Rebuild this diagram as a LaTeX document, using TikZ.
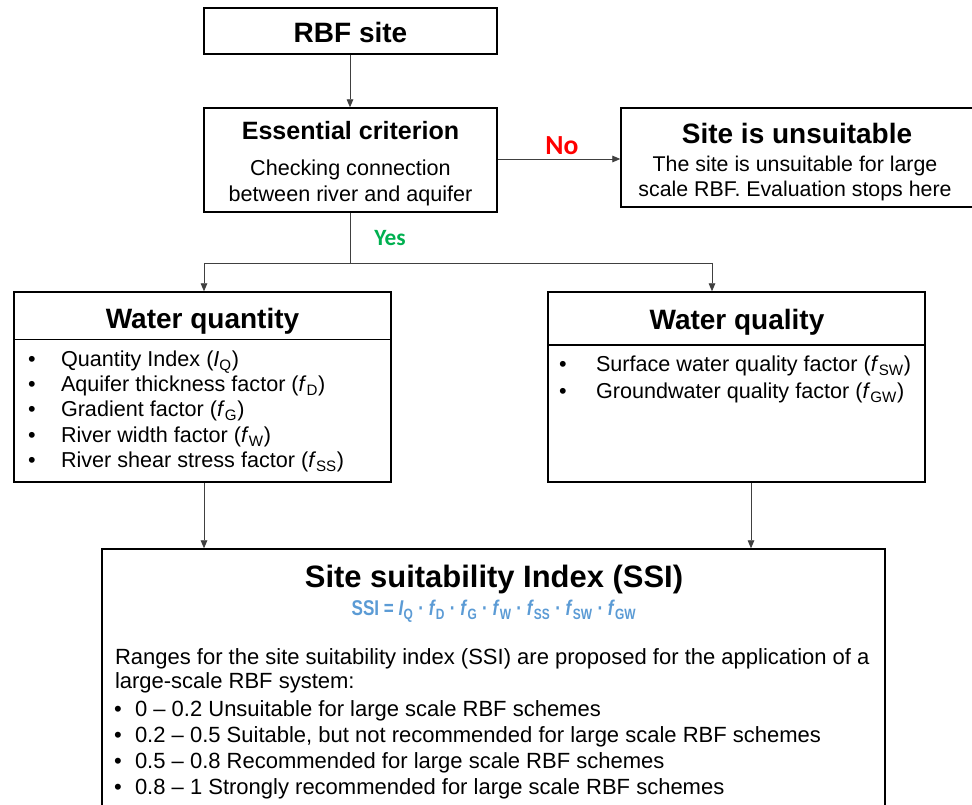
\documentclass[tikz,border=0pt]{standalone}
\usepackage{fontspec}
\setmainfont{Liberation Sans}
\newfontfamily\calib{Carlito}
\newfontfamily\narrowsans[FakeStretch=0.8]{Liberation Sans}
\usetikzlibrary{arrows.meta}
\definecolor{noRed}{HTML}{FF0000}
\definecolor{yesGreen}{HTML}{00B050}
\definecolor{ssiBlue}{HTML}{5B9BD5}
\definecolor{lineGray}{HTML}{404040}
\newcommand\fsub[2]{\textit{#1}\textsubscript{#2}}
\tikzset{
  box/.style={draw=black, line width=1.1pt, rectangle, inner sep=0pt, fill=white},
  conn/.style={draw=lineGray, line width=0.7pt},
  arr/.style={conn, -{Triangle[length=6pt,width=5pt]}},
  txt/.style={inner sep=0pt, outer sep=0pt},
  ttl/.style={txt, anchor=base, font=\fontsize{21}{25}\selectfont\bfseries},
  body/.style={txt, anchor=base, font=\fontsize{16.2}{19}\selectfont},
  item/.style={txt, anchor=base west, font=\fontsize{16.2}{19}\selectfont},
  sitem/.style={txt, anchor=base west, font=\fontsize{16.5}{19}\selectfont},
}
\begin{document}
\begin{tikzpicture}[x=0.75pt, y=-0.75pt]
\useasboundingbox (0,0) rectangle (972,805);
% boxes
\node[box, minimum width=219.75pt, minimum height=34.5pt] (rbf) at (350.5,31) {};
\node[box, minimum width=219.75pt, minimum height=78pt] (ess) at (350.5,160) {};
\node[box, minimum width=264pt, minimum height=74.25pt] (uns) at (797,157.5) {};
\node[box, minimum width=282.75pt, minimum height=142.5pt] (wqn) at (202.5,387) {};
\node[box, minimum width=282.75pt, minimum height=142.5pt] (wql) at (736.5,387) {};
\node[box, minimum width=587.25pt, minimum height=199.5pt] (ssi) at (493.5,682) {};
% dividers
\coordinate (dq1) at (14,339.5);
\coordinate (dq2) at (391,339.5);
\coordinate (dl1) at (548,345);
\coordinate (dl2) at (925,345);
\draw[line width=1.1pt] (dq1) -- (dq2);
\draw[line width=1.1pt] (dl1) -- (dl2);
% texts
\node[ttl] (trbf) at (350.5,43) {RBF site};
\node[ttl, font=\fontsize{18.8}{22}\selectfont\bfseries] (tess) at (350.5,140) {Essential criterion};
\node[body] (tess1) at (350.5,175.5) {Checking connection};
\node[body] (tess2) at (350.5,201.5) {between river and aquifer};
\node[ttl] (tuns) at (797,144) {Site is unsuitable};
\node[body, font=\fontsize{16}{19}\selectfont] (tuns1) at (795,172) {The site is unsuitable for large};
\node[body, font=\fontsize{16}{19}\selectfont] (tuns2) at (795,197) {scale RBF. Evaluation stops here};
\node[txt, anchor=base, font=\calib\fontsize{20.7}{24}\selectfont\bfseries, text=noRed] (tno) at (562,155) {No};
\node[txt, anchor=base, font=\calib\fontsize{17.5}{21}\selectfont\bfseries, text=yesGreen] (tyes) at (390,246) {Yes};
\node[ttl] (twqn) at (202.5,329) {Water quantity};
\node[ttl] (twql) at (737,330) {Water quality};
% quantity items
\foreach \n/\yy/\t in {1/367/{Quantity Index (\fsub{I}{Q})},
                       2/392/{Aquifer thickness factor (\fsub{f}{D})},
                       3/417/{Gradient factor (\fsub{f}{G})},
                       4/443/{River width factor (\fsub{f}{W})},
                       5/468/{River shear stress factor (\fsub{f}{SS})}}{
  \node[body] (bq\n) at (32,\yy) {•};
  \node[item] (iq\n) at (61,\yy) {\t};
}
% quality items
\foreach \n/\yy/\t in {1/372/{Surface water quality factor (\fsub{f}{SW})},
                       2/399/{Groundwater quality factor (\fsub{f}{GW})}}{
  \node[body] (bl\n) at (563,\yy) {•};
  \node[item] (il\n) at (596,\yy) {\t};
}
% SSI
\node[ttl, font=\fontsize{23.2}{27}\selectfont\bfseries] (tssi) at (494,588) {Site suitability Index (SSI)};
\node[txt, anchor=base, font=\narrowsans\fontsize{16}{19}\selectfont\bfseries, text=ssiBlue] (tform) at (494,616)
  {SSI = \fsub{I}{Q} · \fsub{f}{D} · \fsub{f}{G} · \fsub{f}{W} · \fsub{f}{SS} · \fsub{f}{SW} · \fsub{f}{GW}};
\node[sitem] (p1) at (115,665) {Ranges for the site suitability index (SSI) are proposed for the application of a};
\node[sitem] (p2) at (115,688) {large-scale RBF system:};
\foreach \n/\yy/\t in {1/716/{0 – 0.2 Unsuitable for large scale RBF schemes},
                       2/742/{0.2 – 0.5 Suitable, but not recommended for large scale RBF schemes},
                       3/768/{0.5 – 0.8 Recommended for large scale RBF schemes},
                       4/794/{0.8 – 1 Strongly recommended for large scale RBF schemes}}{
  \node[body, font=\fontsize{16.5}{19}\selectfont] (bs\n) at (118,\yy) {•};
  \node[sitem] (is\n) at (135,\yy) {\t};
}
% connectors
\coordinate (jn) at (350,263);
\coordinate (jl) at (204,263);
\coordinate (jr) at (712,263);
\draw[arr] (rbf.south -| 350,0) -- (ess.north -| 350,0);
\draw[arr] (ess.east |- 0,159) -- (uns.west |- 0,159);
\draw[conn] (ess.south -| jn) -- (jn);
\draw[conn] (jl) -- (jr);
\draw[arr] (jl) -- (wqn.north -| jl);
\draw[arr] (jr) -- (wql.north -| jr);
\draw[arr] (wqn.south -| 204,0) -- (ssi.north -| 204,0);
\draw[arr] (wql.south -| 751,0) -- (ssi.north -| 751,0);
\end{tikzpicture}
\end{document}
